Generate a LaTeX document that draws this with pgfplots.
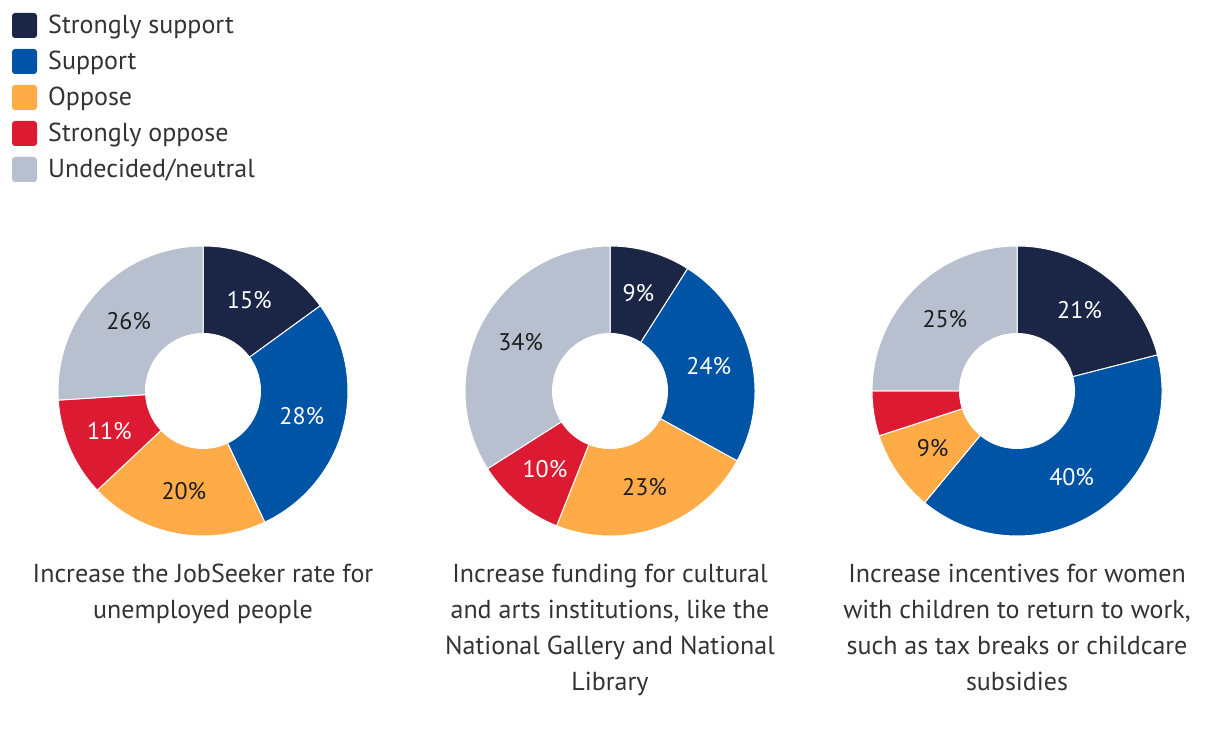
\documentclass[border=0pt]{standalone}
\usepackage{fontspec}
\setmainfont{PT Sans}
\usepackage{pgfplots}
\usepackage{pgfplotstable}
\pgfplotsset{compat=1.18}
\definecolor{col0}{HTML}{1B2647}
\definecolor{col1}{HTML}{0054A6}
\definecolor{col2}{HTML}{FFAB47}
\definecolor{col3}{HTML}{DC1A32}
\definecolor{col4}{HTML}{B8BFCE}
\definecolor{txt}{HTML}{333333}
\definecolor{dark}{HTML}{1E1E1E}

\pgfplotstableread{
val lab
15 white
28 white
20 dark
11 white
26 dark
}\tabA
\pgfplotstableread{
val lab
9 white
24 white
23 dark
10 white
34 dark
}\tabB
\pgfplotstableread{
val lab
21 white
40 white
9 dark
5 white
25 dark
}\tabC

\newcommand{\donut}[3]{%
  \gdef\cum{0}%
  \foreach \i in {0,...,4}{%
    \pgfplotstablegetelem{\i}{val}\of#1\let\v\pgfplotsretval
    \pgfmathsetmacro\aa{90-3.6*\cum}%
    \pgfmathsetmacro\ab{90-3.6*(\cum+\v)}%
    \fill[fill=col\i, draw=white, line width=1pt] (axis cs:#2,#3) -- ++(\aa:145pt) arc[start angle=\aa, end angle=\ab, radius=145pt] -- cycle;
    \pgfmathsetmacro\nc{\cum+\v}%
    \xdef\cum{\nc}%
  }%
  \fill[white] (axis cs:#2,#3) circle[radius=58pt];
  \gdef\cum{0}%
  \foreach \i in {0,...,4}{%
    \pgfplotstablegetelem{\i}{val}\of#1\let\v\pgfplotsretval
    \pgfplotstablegetelem{\i}{lab}\of#1\let\lc\pgfplotsretval
    \pgfmathsetmacro\am{90-3.6*(\cum+\v/2)}%
    \ifdim\v pt<6pt\else
      \path (axis cs:#2,#3) ++(\am:102pt) node[text=\lc, font=\fontsize{24}{26}\selectfont, inner sep=0pt] {\v\%};
    \fi
    \pgfmathsetmacro\nc{\cum+\v}%
    \xdef\cum{\nc}%
  }%
}

\begin{document}
\begin{tikzpicture}
\begin{axis}[x=1pt, y=1pt, xmin=0, xmax=1220, ymin=0, ymax=730,
  hide axis, clip=false, scale only axis]
\pgfplotsextra{%
  \path (axis cs:0,0) rectangle (axis cs:1220,730);
  \foreach \c/\t [count=\k from 0] in {col0/{Strongly support}, col1/{Support}, col2/{Oppose}, col3/{Strongly oppose}, col4/{Undecided/neutral}}{%
    \pgfmathsetmacro\yy{717-36*\k}%
    \fill[\c, rounded corners=3pt] (axis cs:12,\yy) rectangle ++(25pt,-25pt);
    \pgfmathsetmacro\yb{696-36*\k}%
    \node[anchor=base west, inner sep=0pt, text=txt, font=\fontsize{26}{28}\selectfont] at (axis cs:48,\yb) {\t};
  }
  \donut{\tabA}{203}{339}
  \donut{\tabB}{610}{339}
  \donut{\tabC}{1017}{339}
  \begin{scope}[every node/.style={anchor=base, text=txt, font=\fontsize{26}{28}\selectfont, inner sep=0pt}]
  \node at (axis cs:203,147) {Increase the JobSeeker rate for};
  \node at (axis cs:203,111) {unemployed people};
  \node at (axis cs:610,147) {Increase funding for cultural};
  \node at (axis cs:610,111) {and arts institutions, like the};
  \node at (axis cs:610,75) {National Gallery and National};
  \node at (axis cs:610,39) {Library};
  \node at (axis cs:1017,147) {Increase incentives for women};
  \node at (axis cs:1017,111) {with children to return to work,};
  \node at (axis cs:1017,75) {such as tax breaks or childcare};
  \node at (axis cs:1017,39) {subsidies};
  \end{scope}
}
\end{axis}
\end{tikzpicture}
\end{document}
